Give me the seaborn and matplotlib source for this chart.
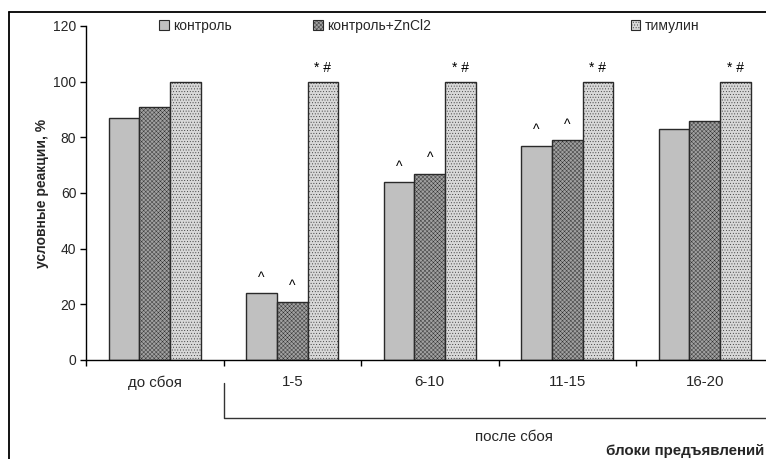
import numpy as np
import pandas as pd
import matplotlib
matplotlib.use('Agg')
import matplotlib.pyplot as plt
import matplotlib.transforms as mtransforms
from matplotlib.patches import Patch
from matplotlib.lines import Line2D
import seaborn as sns

blocks = ['до сбоя', '1-5', '6-10', '11-15', '16-20']
groups = ['контроль', 'контроль+ZnCl2', 'тимулин']
control = [87, 24, 64, 77, 83]
control_zn = [91, 21, 67, 79, 86]
thymulin = [100, 100, 100, 100, 100]
marks_control = ['', '^', '^', '^', '']
marks_zn = ['', '^', '^', '^', '']
marks_thym = ['', '* #', '* #', '* #', '* #']

colors = ['#c0c0c0', '#a0a0a0', '#d8d8d8']
hatches = ['', 'xxxxxxxx', '......']

df = pd.DataFrame({
    'block': blocks * 3,
    'group': [g for g in groups for _ in blocks],
    'value': control + control_zn + thymulin,
})

sns.set_theme(style='white')
plt.rcParams['font.family'] = ['Liberation Sans', 'DejaVu Sans']
plt.rcParams['hatch.linewidth'] = 0.3

fs = 10

fig = plt.figure(figsize=(7.66, 4.59), dpi=100)
ax = fig.add_axes([0.1123, 0.2157, 0.8975, 0.7277])

sns.barplot(data=df, x='block', y='value', hue='group', palette=colors,
            width=0.67, edgecolor='#2a2a2a', linewidth=1.0, ax=ax,
            legend=False, saturation=1)

for cont, h in zip(ax.containers, hatches):
    for p in cont:
        p.set_hatch(h)

# significance marks
all_marks = [marks_control, marks_zn, marks_thym]
for cont, mk in zip(ax.containers, all_marks):
    for p, m in zip(cont, mk):
        if not m:
            continue
        x = p.get_x() + p.get_width() / 2
        y = p.get_height()
        off = 6 if m == '^' else 5
        ax.annotate(m, (x, y), xytext=(0, off), textcoords='offset points',
                    ha='center', va='bottom', fontsize=fs, color='black')

ax.set_ylim(0, 120)
ax.set_yticks(np.arange(0, 121, 20))
ax.set_xlim(-0.5, 4.5)
ax.set_ylabel('условные реакции, %', fontsize=10, fontweight='bold', labelpad=3)
ax.set_xlabel('')

sns.despine(ax=ax, top=True, right=True)
for s in ['left', 'bottom']:
    ax.spines[s].set_color('black')
    ax.spines[s].set_linewidth(1.0)

ax.tick_params(axis='y', which='major', direction='out', length=4, width=1,
               color='black', labelsize=fs, left=True, pad=3)
ax.set_xticks(range(len(blocks)))
ax.set_xticklabels(blocks)
ax.tick_params(axis='x', which='major', length=0, labelsize=10.8, pad=11)
ax.set_xticks(np.arange(-0.5, 4.6, 1.0), minor=True)
ax.tick_params(axis='x', which='minor', direction='out', length=4, width=1,
               color='black', bottom=True)

# bracket for "после сбоя"
trans = mtransforms.blended_transform_factory(ax.transData, ax.transAxes)
ax.add_line(Line2D([0.5, 0.5, 5.2], [-0.069, -0.174, -0.174], transform=trans,
                   color='#333333', lw=1.0, clip_on=False))
ax.text(2.61, -0.232, 'после сбоя', transform=trans, ha='center', va='center',
        fontsize=10.8)
ax.text(3.28, -0.272, 'блоки предъявлений', transform=trans, ha='left',
        va='center', fontsize=10.9, fontweight='bold')

# legend, spread like the original (one legend per entry)
leg_pos = [0.106, 0.330, 0.792]
legends = []
for g, c, h, xp in zip(groups, colors, hatches, leg_pos):
    handle = Patch(facecolor=c, edgecolor='#2a2a2a', hatch=h, linewidth=0.8, label=g)
    leg = ax.legend(handles=[handle], loc='center left', bbox_to_anchor=(xp, 1.0),
                    frameon=False, fontsize=fs, handlelength=0.7, handleheight=0.7,
                    handletextpad=0.3, borderaxespad=0, borderpad=0)
    legends.append(leg)
for leg in legends[:-1]:
    ax.add_artist(leg)

# outer frame of the chart area
fig.add_artist(Line2D([0.0117, 0.0117], [0.0, 0.974], transform=fig.transFigure,
                      color='black', lw=1.3))
fig.add_artist(Line2D([0.0117, 1.0], [0.974, 0.974], transform=fig.transFigure,
                      color='black', lw=1.3))

fig.savefig('out.png', dpi=100)
